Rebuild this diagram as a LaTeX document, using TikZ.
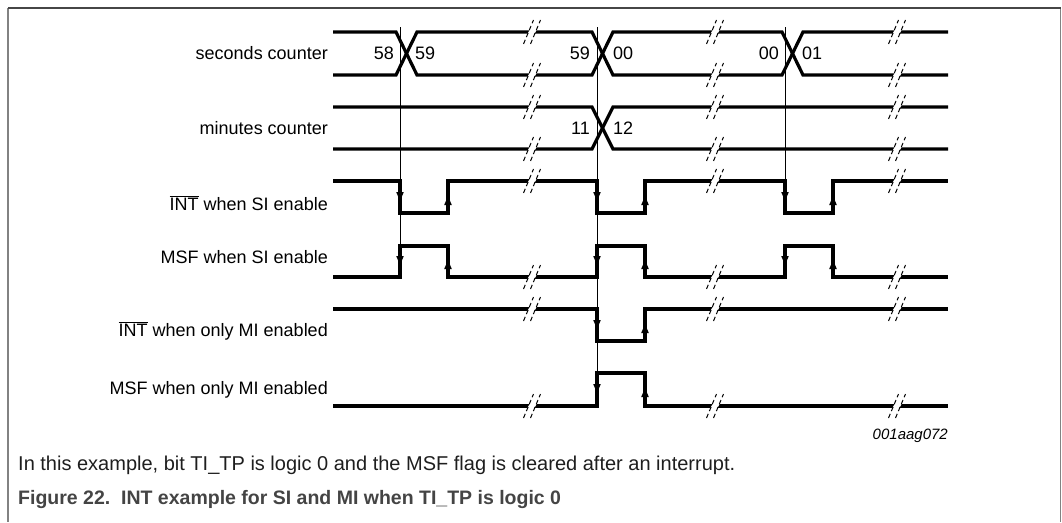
\documentclass[tikz,border=0pt]{standalone}
\usepackage{fontspec}
\setmainfont{Liberation Sans}
\usetikzlibrary{arrows.meta}
\definecolor{capgray}{RGB}{68,68,68}
\definecolor{framedark}{RGB}{70,70,70}
\definecolor{frameside}{RGB}{130,130,130}
\tikzset{
  sig/.style={line width=3.2pt, line join=miter, black},
  guide/.style={line width=1pt, black},
  lbl/.style={anchor=east, inner sep=0pt, font=\fontsize{18}{20}\selectfont},
  val/.style={inner sep=0pt, font=\fontsize{18}{20}\selectfont},
  slash/.style={line width=1pt, dash pattern=on 4.5pt off 3pt},
}
\newcommand{\brk}[2]{%
  \fill[white] (#1-5,#2+2.8) -- (#1-2,#2-2.8) -- (#1+5,#2-2.8) -- (#1+2,#2+2.8) -- cycle;
  \draw[slash] (#1-8.5,#2+12) -- (#1+1.5,#2-12);
  \draw[slash] (#1-1.5,#2+12) -- (#1+8.5,#2-12);
}
\newcommand{\darr}[2]{\fill (#1-3.8,#2-9) -- (#1+3.8,#2-9) -- (#1,#2) -- cycle;}
\newcommand{\uarr}[2]{\fill (#1-3.8,#2+9) -- (#1+3.8,#2+9) -- (#1,#2) -- cycle;}
\begin{document}
\begin{tikzpicture}[x=1pt,y=-1pt]
\useasboundingbox (0,0) rectangle (1062,522);
% frame
\draw[frameside, line width=1.5pt] (8,8) -- (8,522);
\draw[frameside, line width=1.5pt] (1060.5,8) -- (1060.5,522);
\draw[framedark, line width=1.5pt] (8,8) -- (1060.5,8);

% guide lines
\draw[guide] (400,27) -- (400,246);
\draw[guide] (597,27) -- (597,373);
\draw[guide] (785,27) -- (785,181);

% seconds counter bus
\draw[sig] (333,32) -- (396,32) -- (417,75) -- (592,75) -- (613,32) -- (782,32) -- (803,75) -- (948,75);
\draw[sig] (333,75) -- (396,75) -- (417,32) -- (592,32) -- (613,75) -- (782,75) -- (803,32) -- (948,32);
% minutes counter bus
\draw[sig] (333,107) -- (592,107) -- (613,149) -- (948,149);
\draw[sig] (333,149) -- (592,149) -- (613,107) -- (948,107);
% INT when SI enable
\draw[sig] (333,181) -- (400,181) -- (400,213) -- (448,213) -- (448,181) -- (597,181) -- (597,213) -- (645,213) -- (645,181) -- (785,181) -- (785,213) -- (833,213) -- (833,181) -- (948,181);
% MSF when SI enable
\draw[sig] (333,277) -- (400,277) -- (400,246) -- (448,246) -- (448,277) -- (597,277) -- (597,246) -- (645,246) -- (645,277) -- (785,277) -- (785,246) -- (833,246) -- (833,277) -- (948,277);
% INT when only MI enabled
\draw[sig] (333,309) -- (597,309) -- (597,341) -- (645,341) -- (645,309) -- (948,309);
% MSF when only MI enabled
\draw[sig] (333,406) -- (597,406) -- (597,373) -- (645,373) -- (645,406) -- (948,406);

% arrowheads
\foreach \x in {400,597,785} {\darr{\x}{201}\darr{\x}{265}}
\foreach \x in {448,645,833} {\uarr{\x}{196}\uarr{\x}{260}}
\darr{597}{329}\uarr{645}{324}
\darr{597}{393}\uarr{645}{388}

% breaks
\foreach \y in {32,75,107,149,181,277,309,406} {
  \foreach \x in {532,715,897} {\brk{\x}{\y}}
}

% values
\node[val, anchor=east] (v58) at (394,53) {58};
\node[val, anchor=west] (v59) at (415,53) {59};
\node[val, anchor=east] (v59b) at (590,53) {59};
\node[val, anchor=west] (v00) at (613,53) {00};
\node[val, anchor=east] (v00b) at (779,53) {00};
\node[val, anchor=west] (v01) at (802,53) {01};
\node[val, anchor=east] (v11) at (590,128) {11};
\node[val, anchor=west] (v12) at (613,128) {12};

% labels
\node[lbl] (l1) at (328,53) {seconds counter};
\node[lbl] (l2) at (328,128) {minutes counter};
\node[lbl] (l3) at (328,203) {$\overline{\mbox{INT}}$ when SI enable};
\node[lbl] (l4) at (328,257) {MSF when SI enable};
\node[lbl] (l5) at (328,331) {$\overline{\mbox{INT}}$ when only MI enabled};
\node[lbl] (l6) at (328,390) {MSF when only MI enabled};

\node[anchor=east, inner sep=0pt, font=\fontsize{15}{17}\selectfont\itshape] (code) at (948,436) {001aag072};

% caption
\node[anchor=base west, inner sep=0pt, font=\fontsize{20}{22}\selectfont, text={rgb,255:red,30;green,30;blue,30}] (note) at (18,470) {In this example, bit TI\_TP is logic 0 and the MSF flag is cleared after an interrupt.};
\node[anchor=base west, inner sep=0pt, font=\fontsize{19.5}{22}\selectfont\bfseries, text=capgray] (title) at (18,504) {Figure 22.\ \ INT example for SI and MI when TI\_TP is logic 0};
\end{tikzpicture}
\end{document}
